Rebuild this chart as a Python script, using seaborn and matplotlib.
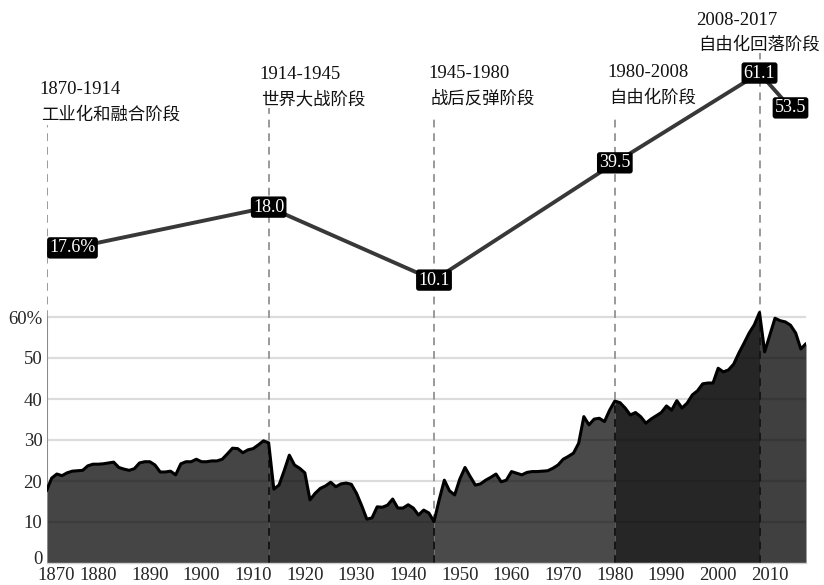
import numpy as np
import pandas as pd
import matplotlib
matplotlib.use("Agg")
import matplotlib.pyplot as plt
import matplotlib.transforms as mtransforms
import seaborn as sns

# ── Data ────────────────────────────────────────────────────────────────
years = list(range(1870, 2018))
share = [
    17.6, 20.7, 21.7, 21.3, 22.0, 22.4, 22.5, 22.6, 23.7, 24.1,   # 1870s
    24.1, 24.2, 24.4, 24.6, 23.3, 22.9, 22.6, 23.0, 24.4, 24.7,   # 1880s
    24.7, 23.9, 22.2, 22.2, 22.4, 21.5, 24.2, 24.7, 24.7, 25.3,   # 1890s
    24.7, 24.7, 24.9, 24.9, 25.3, 26.6, 28.0, 27.9, 26.9, 27.6,   # 1900s
    27.9, 28.8, 29.8, 29.3, 18.0, 19.0, 22.5, 26.3, 23.9, 23.1,   # 1910s
    22.0, 15.4, 17.0, 18.2, 18.8, 19.7, 18.6, 19.3, 19.5, 19.2,   # 1920s
    17.0, 14.0, 10.7, 11.0, 13.7, 13.6, 14.1, 15.6, 13.4, 13.4,   # 1930s
    14.2, 13.4, 11.7, 12.9, 12.2, 10.1, 15.4, 20.2, 17.6, 16.6,   # 1940s
    20.5, 23.3, 21.1, 19.0, 19.3, 20.2, 20.9, 21.7, 19.8, 20.2,   # 1950s
    22.3, 21.9, 21.5, 22.1, 22.3, 22.3, 22.4, 22.5, 23.1, 23.9,   # 1960s
    25.3, 26.0, 26.8, 29.2, 35.7, 33.7, 35.1, 35.3, 34.5, 37.3,   # 1970s
    39.5, 39.1, 37.8, 36.1, 36.7, 35.7, 34.1, 35.1, 35.9, 36.7,   # 1980s
    38.3, 37.3, 39.6, 37.8, 39.0, 41.0, 42.0, 43.7, 43.9, 43.9,   # 1990s
    47.5, 46.6, 47.1, 48.5, 51.2, 53.6, 56.1, 58.1, 61.1, 51.5,   # 2000s
    55.6, 59.7, 59.1, 58.8, 58.0, 56.1, 52.2, 53.5,               # 2010s
]

phase_starts = [1870, 1913, 1945, 1980, 2008]
phase_ends = [1913, 1945, 1980, 2008, 2017]
phase_years = ["1870-1914", "1914-1945", "1945-1980", "1980-2008", "2008-2017"]
phase_names = ["工业化和融合阶段", "世界大战阶段", "战后反弹阶段", "自由化阶段", "自由化回落阶段"]
phase_colors = ["#454545", "#3a3a3a", "#4a4a4a", "#262626", "#404040"]

# schematic summary line above the area chart
key_years = [1870, 1913, 1945, 1980, 2008, 2014]
key_labels = ["17.6%", "18.0", "10.1", "39.5", "61.1", "53.5"]
key_height = [75.5, 86.8, 69.0, 97.6, 119.5, 111.0]

# ── Style ───────────────────────────────────────────────────────────────
sns.set_theme(style="white")
plt.rcParams["font.family"] = ["Liberation Serif", "Noto Sans CJK SC"]
plt.rcParams["axes.unicode_minus"] = False

df = pd.DataFrame({"year": years, "share": share})
key_df = pd.DataFrame({"year": key_years, "h": key_height})

fig = plt.figure(figsize=(8.24, 5.85), dpi=100)
ax = fig.add_axes([46.5 / 824, 22 / 585, (806 - 46.5) / 824, 563 / 585])
ax.set_xlim(1870, 2017)
ax.set_ylim(0, 563 / 4.1)

# ── Grid (light, under the area) ────────────────────────────────────────
for g in range(10, 70, 10):
    ax.axhline(g, color="#dcdcdc", lw=1.6, zorder=0.5)

# ── Dashed phase separators ────────────────────────────────────────────
sep_tops = [106.8, 111.0, 108.5, 108.8, 124.4]
ax.vlines(phase_starts, 0, sep_tops, colors="#9a9a9a", lw=1.4,
          linestyles=(0, (4, 3)), zorder=0.8)

# ── Area by phase ──────────────────────────────────────────────────────
yrs = np.array(years)
vals = np.array(share)
polys = []
for s, e, c in zip(phase_starts, phase_ends, phase_colors):
    m = (yrs >= s) & (yrs <= e)
    polys.append(ax.fill_between(yrs[m], 0, vals[m], color=c, lw=0, zorder=1))

# darker grid lines inside the area
for p in polys:
    for g in range(10, 70, 10):
        ln = ax.axhline(g, color="black", alpha=0.13, lw=1.6, zorder=1.2)
        ln.set_clip_path(p.get_paths()[0], transform=ax.transData)

# dark dashes inside the area
idx = [years.index(y) for y in phase_starts]
ax.vlines(phase_starts[1:], 0, [share[i] for i in idx[1:]], colors="#151515",
          lw=1.4, linestyles=(0, (4, 3)), zorder=1.5)

sns.lineplot(data=df, x="year", y="share", color="black", lw=2.2, ax=ax,
             zorder=2)

# left axis line up to 60%
ax.plot([1870, 1870], [0, 60], color="#8a8a8a", lw=1.5, zorder=1.6)

# ── Summary line with value boxes ──────────────────────────────────────
sns.lineplot(data=key_df, x="year", y="h", color="#383838", lw=2.8, ax=ax,
             zorder=4, sort=False)
box = dict(boxstyle="round,pad=0.12,rounding_size=0.15", fc="black", ec="none")
for i, (x, y, t) in enumerate(zip(key_years, key_height, key_labels)):
    if i == 0:
        ax.annotate(t, xy=(x, y), xytext=(2, 4), textcoords="offset points",
                    ha="left", va="center", color="white", fontsize=13,
                    bbox=box, zorder=5)
    else:
        ax.text(x, y, t, ha="center", va="center", color="white",
                fontsize=13, bbox=box, zorder=5)

# ── Phase captions ─────────────────────────────────────────────────────
cap_x = [1868.7, 1911.3, 1944.0, 1978.6, 1995.8]
cap_y = [115.4, 119.1, 119.4, 119.6, 132.4]
for x, y, t1, t2 in zip(cap_x, cap_y, phase_years, phase_names):
    ax.text(x, y, t1, ha="left", va="center", fontsize=13.5, color="#111")
    ax.text(x + 0.3, y - 6.2, t2, ha="left", va="center", fontsize=12.5,
            color="#111")

# ── Axes ───────────────────────────────────────────────────────────────
ax.set_xlabel("")
ax.set_ylabel("")
ax.set_xticks(range(1870, 2011, 10))
ax.set_xticks(range(1870, 2018), minor=True)
ax.set_yticks(range(0, 70, 10))
ax.set_yticklabels(["0", "10", "20", "30", "40", "50", "60%"])
ax.set_axisbelow(False)
ax.tick_params(axis="x", which="major", direction="in", length=5, width=1.6,
               color="#d0d0d0", labelsize=13.5, pad=3)
ax.tick_params(axis="x", which="minor", direction="in", length=3, width=1.1,
               color="#a8a8a8")
ax.tick_params(axis="y", length=0, labelsize=13.5, pad=3)
for side in ["top", "right", "left"]:
    ax.spines[side].set_visible(False)
ax.spines["bottom"].set_color("#d0d0d0")
ax.spines["bottom"].set_linewidth(1.0)

# nudge the "0" up and the first year label right, as in the original
fig.canvas.draw()
ylab0 = ax.get_yticklabels()[0]
ylab0.set_transform(ylab0.get_transform()
                    + mtransforms.ScaledTranslation(0, 4 / 72, fig.dpi_scale_trans))
xlab0 = ax.get_xticklabels()[0]
xlab0.set_transform(xlab0.get_transform()
                    + mtransforms.ScaledTranslation(7 / 72, 0, fig.dpi_scale_trans))

fig.savefig("out.png", dpi=100)
